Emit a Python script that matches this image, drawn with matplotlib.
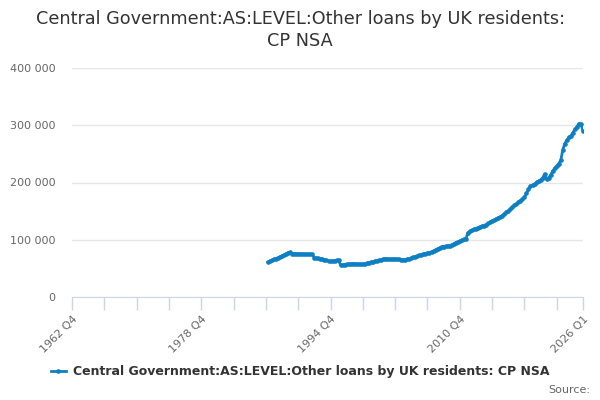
import numpy as np
import matplotlib
matplotlib.use("Agg")
import matplotlib.pyplot as plt
from matplotlib.ticker import FuncFormatter

# quarterly categories on the x axis, 1962 Q4 .. 2026 Q1
quarters = ["1962 Q4"]
for yr in range(1963, 2026):
    for q in range(1, 5):
        quarters.append("%d Q%d" % (yr, q))
quarters.append("2026 Q1")

first_quarter = "1987 Q1"

# values, in thousands, from 1987 Q1 to 2026 Q1
values_k = [
    61.0, 62.5, 64.0, 66.0, 67.0, 68.5, 70.4, 72.0, 73.5, 75.5,
    77.5, 78.0, 75.5, 75.8, 75.5, 75.3, 75.0, 75.2, 74.8, 74.6,
    74.8, 74.5, 74.4, 68.6, 68.2, 67.5, 67.0, 66.2, 65.0, 64.0,
    63.0, 62.3, 62.5, 63.4, 63.8, 64.0, 55.8, 56.0, 56.5, 57.3,
    57.0, 57.8, 58.2, 57.9, 57.6, 57.2, 57.0, 57.3, 58.0, 58.8,
    59.8, 60.8, 61.8, 62.8, 63.5, 64.3, 65.0, 66.0, 66.9, 66.5,
    65.7, 66.0, 66.4, 66.3, 66.0, 65.6, 65.3, 65.1, 65.4, 66.0,
    66.8, 68.0, 69.3, 70.4, 71.5, 72.6, 73.8, 75.0, 75.8, 76.6,
    77.5, 79.0, 80.5, 82.5, 84.0, 86.0, 87.8, 88.2, 88.5, 89.0,
    89.5, 91.0, 93.0, 95.0, 96.5, 98.0, 99.5, 100.7, 101.5, 112.0,
    114.5, 116.5, 118.0, 119.5, 121.0, 122.7, 123.5, 124.8, 126.5, 128.5,
    130.5, 132.6, 134.5, 136.5, 138.5, 140.0, 142.0, 145.0, 148.0, 150.5,
    154.0, 157.0, 160.0, 162.5, 165.5, 168.5, 171.0, 174.0, 181.0, 188.0,
    194.0, 195.0, 197.5, 200.5, 202.5, 204.5, 208.0, 214.5, 205.5, 208.5,
    213.0, 220.0, 225.0, 229.0, 233.0, 239.0, 257.0, 268.0, 274.0, 279.0,
    281.5, 287.0, 293.0, 297.5, 303.0, 301.5, 290.0,
]

series_name = "Central Government:AS:LEVEL:Other loans by UK residents: CP NSA"
title = "Central Government:AS:LEVEL:Other loans by UK residents:\nCP NSA"
label_quarters = ["1962 Q4", "1978 Q4", "1994 Q4", "2010 Q4", "2026 Q1"]

start = quarters.index(first_quarter)
x = np.arange(start, start + len(values_k))
y = np.array(values_k) * 1000

fig = plt.figure(figsize=(6, 4), dpi=100)
ax = fig.add_axes([72 / 600, 1 - 297 / 400, (583 - 72) / 600, (297 - 68) / 400])

ax.plot(x, y, color="#0f7fc4", lw=2.0, marker="o", ms=2.3,
        solid_joinstyle="round", label=series_name)

n = len(quarters) - 1
ax.set_xlim(0, n)
ax.set_ylim(0, 400000)
ax.set_yticks([0, 100000, 200000, 300000, 400000])
ax.yaxis.set_major_formatter(FuncFormatter(lambda v, p: "{:,.0f}".format(v).replace(",", " ")))
ax.grid(axis="y", color="#e6e6e6", lw=1)
ax.set_axisbelow(True)

ticks = list(range(0, n, 16)) + [n]
ax.set_xticks(ticks)
ax.set_xticklabels([quarters[t] if quarters[t] in label_quarters else "" for t in ticks],
                   rotation=45, ha="right", rotation_mode="anchor")

for s in ["top", "right", "left"]:
    ax.spines[s].set_visible(False)
ax.spines["bottom"].set_color("#ccd6eb")
ax.tick_params(axis="x", colors="#ccd6eb", length=9, width=1, labelcolor="#666666",
               labelsize=8, pad=3)
ax.tick_params(axis="y", length=0, labelcolor="#666666", labelsize=8, pad=12)

fig.text(0.5, 0.975, title, ha="center", va="top", fontsize=12.7, color="#333333",
         linespacing=1.25)

leg = fig.legend(loc="center", bbox_to_anchor=(0.5, 1 - 372 / 400), frameon=False,
                 handlelength=1.2, handletextpad=0.6, prop={"size": 9, "weight": "bold"})
for t in leg.get_texts():
    t.set_color("#333333")

fig.text(0.983, 1 - 390 / 400, "Source:", ha="right", va="center", fontsize=8, color="#666666")

fig.savefig("out.png", dpi=100)
